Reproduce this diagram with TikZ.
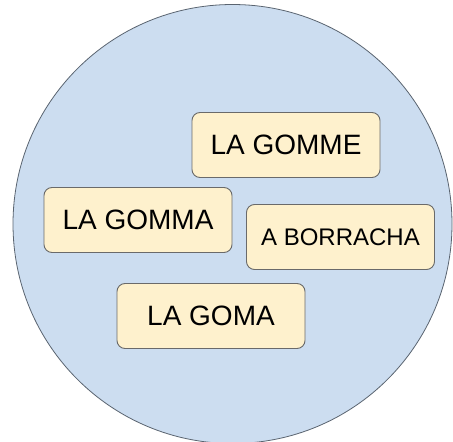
\documentclass[tikz,border=0pt]{standalone}
\usepackage{fontspec}
\setmainfont{Liberation Sans}
\definecolor{circlefill}{HTML}{CCDDF0}
\definecolor{circleline}{HTML}{5A6470}
\definecolor{wordfill}{HTML}{FEF1CD}
\definecolor{wordline}{HTML}{6A6A6A}
\tikzset{
  word/.style={draw=wordline, fill=wordfill, line width=0.9pt,
    rounded corners=8pt, minimum width=188pt, minimum height=65pt,
    inner sep=0pt, font=\fontsize{28}{32}\selectfont},
  smallword/.style={word, font=\fontsize{24}{28}\selectfont}
}
\begin{document}
\begin{tikzpicture}[x=1pt, y=-1pt]
  \useasboundingbox (0,0) rectangle (453,442);
  \draw[draw=circleline, fill=circlefill, line width=0.8pt]
    (232.5,224) circle (219.5pt);
  \node[word] (gomme) at (286,145) {LA GOMME};
  \node[word] (gomma) at (138,220) {LA GOMMA};
  \node[smallword] (borracha) at (340.5,237) {A BORRACHA};
  \node[word] (goma) at (211,316) {LA GOMA};
\end{tikzpicture}
\end{document}
